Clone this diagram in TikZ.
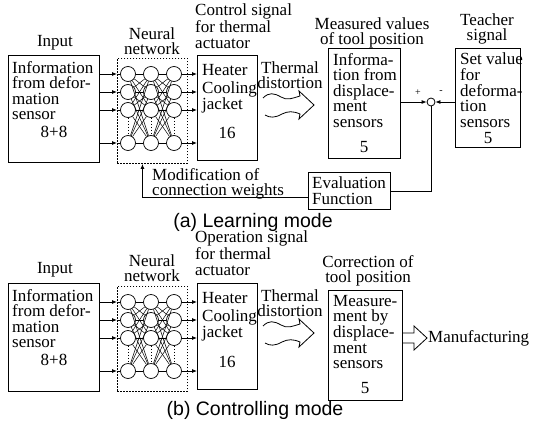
\documentclass[tikz,border=0pt]{standalone}
\usepackage{fontspec}
\setmainfont{Liberation Serif}
\newfontfamily\capfont{Liberation Sans}
\usetikzlibrary{arrows.meta,calc}
\tikzset{
  boxn/.style={draw, line width=0.9pt, inner sep=0pt, anchor=north west},
  txt/.style={inner sep=0pt, font=\fontsize{17}{15.6}\selectfont, align=left},
  ctxt/.style={txt, align=center},
  neuron/.style={circle, draw, line width=0.7pt, minimum size=15pt, inner sep=0pt},
  arr/.style={-{Latex[length=5pt,width=4pt]}, line width=0.8pt},
  wire/.style={line width=0.8pt},
  nnbox/.style={draw, line width=0.9pt, dash pattern=on 1.6pt off 1.4pt, inner sep=0pt, anchor=north west},
  caption/.style={inner sep=0pt, font=\capfont\fontsize{19.5}{19.5}\selectfont},
  sumj/.style={circle, draw, line width=0.8pt, minimum size=8pt, inner sep=0pt},
  sign/.style={inner sep=0pt, font=\fontsize{10}{10}\selectfont},
}
\newcommand{\nnet}[2]{%
  \node[nnbox, minimum width=70pt, minimum height=105pt] (#1net) at (117,#2) {};
  \foreach \c/\x in {1/128,2/151,3/174}{%
    \foreach \r/\dy in {1/16,2/34,3/52,4/85}{%
      \node[neuron] (#1n\c\r) at (\x,#2+\dy) {};
    }}
  \foreach \r in {1,2,3,4}{\foreach \s in {1,2,3,4}{%
    \draw[line width=0.5pt] (#1n1\r) -- (#1n2\s);
    \draw[line width=0.5pt] (#1n2\r) -- (#1n3\s);}}
  \foreach \c in {1,2,3}{\draw[line width=1pt, dotted] (#1n\c3) -- (#1n\c4);}
  \foreach \r in {1,2,3,4}{%
    \draw[arr] (#1in.east |- #1n1\r) -- (#1net.west |- #1n1\r);
    \draw[wire] (#1net.west |- #1n1\r) -- (#1n1\r);
    \draw[arr] (#1n3\r) -- (#1heat.west |- #1n3\r);}
}
\newcommand{\wavy}[2]{%
  \draw[line width=0.8pt, line join=miter, shift={(#1,#2)}]
    (0,6) .. controls (6,0) and (11,1) .. (18,5) .. controls (24,9) and (30,6) .. (37,4)
    -- (36,-1) -- (51,13) -- (36,27) -- (37,22)
    .. controls (30,19) and (25,19) .. (19,22) .. controls (12,26) and (7,26) .. (2,23);
}
\begin{document}
\begin{tikzpicture}[x=1pt,y=-1pt]
\path[use as bounding box] (0,0) rectangle (534,425);

% ---------------- (a) Learning mode ----------------
\node[txt] (aInL) at (55,43) {Input};
\node[boxn, minimum width=91pt, minimum height=107pt] (ain) at (8,55) {};
\node[txt, anchor=north west] (ainT) at (12,61) {Information\\from defor-\\mation\\sensor};
\node[txt] (a88) at (54,132) {8+8};
\node[ctxt] (aNNL) at (152,41) {Neural\\network};
\node[txt, anchor=north west] (actl) at (195,4) {Control signal\\for thermal\\actuator};
\node[boxn, minimum width=60pt, minimum height=105pt] (aheat) at (197,55) {};
\node[txt, anchor=north west] (aheatT) at (202,64) {Heater\\[3pt]Cooling\\jacket};
\node[txt] (a16) at (227,133) {16};
\nnet{a}{58}
\node[ctxt] (athd) at (290,75) {Thermal\\distortion};
\wavy{263}{92}
\node[ctxt] (amvL) at (372,33) {Measured values\\of tool position};
\node[boxn, minimum width=72pt, minimum height=110pt] (ameas) at (328,48) {};
\node[txt, anchor=north west] (ameasT) at (333,53) {Informa-\\tion from\\displace-\\ment\\sensors};
\node[txt] (a5a) at (364,147) {5};
\node[ctxt] (atchL) at (487,29) {Teacher\\signal};
\node[boxn, minimum width=65pt, minimum height=99pt] (atch) at (455,48) {};
\node[txt, anchor=north west] (atchT) at (460,53) {Set value\\for\\deforma-\\tion\\sensors};
\node[txt] (a5b) at (488,138) {5};
\node[sumj] (asum) at (431,102) {};
\draw[arr] (ameas.east |- asum) -- (asum);
\draw[arr] (atch.west |- asum) -- (asum);
\node[sign] (aplus) at (418,93) {+};
\node[sign] (aminus) at (441,92) {-};
\node[boxn, minimum width=82pt, minimum height=37pt] (aeval) at (308,172) {};
\node[txt, anchor=west] (aevalT) at (312,190.5) {Evaluation\\Function};
\draw[wire] (asum) |- (aeval.east);
\draw[arr] ([yshift=-6pt]aeval.west) -| ([xshift=-10pt]anet.south);
\node[txt, anchor=north west] (amodT) at (152,168) {Modification of\\connection weights};
\node[caption] (acap) at (253,222) {(a) Learning mode};

% ---------------- (b) Controlling mode ----------------
\node[txt] (bInL) at (55,270) {Input};
\node[boxn, minimum width=91pt, minimum height=108pt] (bin) at (8,283) {};
\node[txt, anchor=north west] (binT) at (12,289) {Information\\from defor-\\mation\\sensor};
\node[txt] (b88) at (54,360) {8+8};
\node[ctxt] (bNNL) at (152,268) {Neural\\network};
\node[txt, anchor=north west] (bop) at (195,231) {Operation signal\\for thermal\\actuator};
\node[boxn, minimum width=60pt, minimum height=106pt] (bheat) at (197,283) {};
\node[txt, anchor=north west] (bheatT) at (202,292) {Heater\\[3pt]Cooling\\jacket};
\node[txt] (b16) at (227,362) {16};
\nnet{b}{286}
\node[ctxt] (bthd) at (290,303) {Thermal\\distortion};
\wavy{263}{320}
\node[ctxt] (bcorL) at (368,271) {Correction of\\tool position};
\node[boxn, minimum width=74pt, minimum height=110pt] (bmeas) at (328,290) {};
\node[txt, anchor=north west] (bmeasT) at (333,295) {Measure-\\ment by\\displace-\\ment\\sensors};
\node[txt] (b5) at (365,388) {5};
\draw[line width=0.8pt, line join=miter] (bmeas.east |- 0,333) -- (414,333) -- (414,326) -- (427,338) -- (414,350) -- (414,343) -- (bmeas.east |- 0,343);
\node[txt, anchor=west] (bman) at (428,338) {Manufacturing};
\node[caption] (bcap) at (255,410) {(b) Controlling mode};
\end{tikzpicture}
\end{document}
